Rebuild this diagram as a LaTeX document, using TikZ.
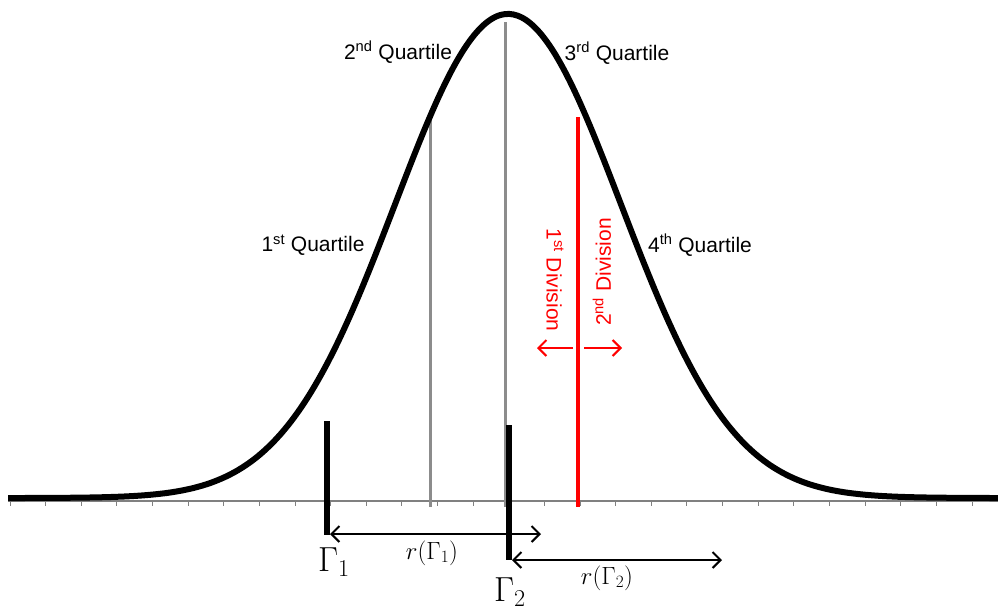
\documentclass[tikz,border=0pt]{standalone}
\usepackage{fontspec}
\setmainfont{Liberation Sans}
\usetikzlibrary{arrows.meta,positioning}

\begin{document}
\begin{tikzpicture}[
  x=1pt,y=-1pt,
  lbl/.style={font=\fontsize{21}{25}\selectfont,inner sep=0pt},
  divlbl/.style={lbl,text=red},
  gam/.style={font=\fontsize{24}{28}\selectfont,inner sep=0pt},
  rng/.style={font=\fontsize{23}{27}\selectfont,inner sep=0pt},
  axisline/.style={draw=gray,line width=1.5pt},
  tickmark/.style={draw=gray,line width=1pt},
  split/.style={draw=gray!90,line width=3pt},
  bell/.style={draw=black,line width=6pt,line join=round},
  thr/.style={draw=black,line width=6pt},
  span/.style={{Straight Barb[length=8pt,width=16pt]}-{Straight Barb[length=8pt,width=16pt]},line width=2pt},
  divarrow/.style={-{Straight Barb[length=8pt,width=16pt]},draw=red,line width=2pt},
]
\useasboundingbox (0,0) rectangle (998,611);

% axis with ticks
\draw[axisline] (8,501) -- (998,501);
\foreach \k in {0,...,27}
  \draw[tickmark] ({10+35.63*\k},501) -- ++(0,5);

% quartile splits
\draw[split] (430,115) -- (430,507);
\draw[split] (505,22) -- (505,507);

% bell curve
\draw[bell] plot[domain=8:998,samples=240,smooth]
  (\x,{498-484*exp(-0.5*((\x-508)/113)^2)});

% division line
\draw[draw=red,line width=4pt] (578,117) -- (578,507);
\coordinate (dl) at (573,348);
\coordinate (dlx) at (537,348);
\coordinate (dr) at (584,348);
\coordinate (drx) at (622,348);
\draw[divarrow] (dl) -- (dlx);
\draw[divarrow] (dr) -- (drx);
\node[divlbl,rotate=-90] (div1) at (555,280) {1\textsuperscript{st} Division};
\node[divlbl,rotate=90] (div2) at (602,272) {2\textsuperscript{nd} Division};

% quartile labels
\node[lbl] (q1) at (313,245) {1\textsuperscript{st} Quartile};
\node[lbl] (q2) at (398,52) {2\textsuperscript{nd} Quartile};
\node[lbl] (q3) at (617,53) {3\textsuperscript{rd} Quartile};
\node[lbl] (q4) at (700,245) {4\textsuperscript{th} Quartile};

% thresholds and their ranges
\draw[thr] (327,421) -- (327,535);
\draw[thr] (509,425) -- (509,560);
\node[gam] (G1) at (334,562) {\scalebox{1.4}{$\Gamma_1$}};
\node[gam] (G2) at (510,592) {\scalebox{1.4}{$\Gamma_2$}};
\coordinate (g1) at (330,534);
\coordinate (r1) at (541,534);
\coordinate (g2) at (512,560);
\coordinate (r2) at (722,560);
\draw[span] (g1) -- (r1);
\draw[span] (g2) -- (r2);
\node[rng] (rg1) at (432,553) {$r(\Gamma_1)$};
\node[rng] (rg2) at (607,578) {$r(\Gamma_2)$};
\end{tikzpicture}
\end{document}
